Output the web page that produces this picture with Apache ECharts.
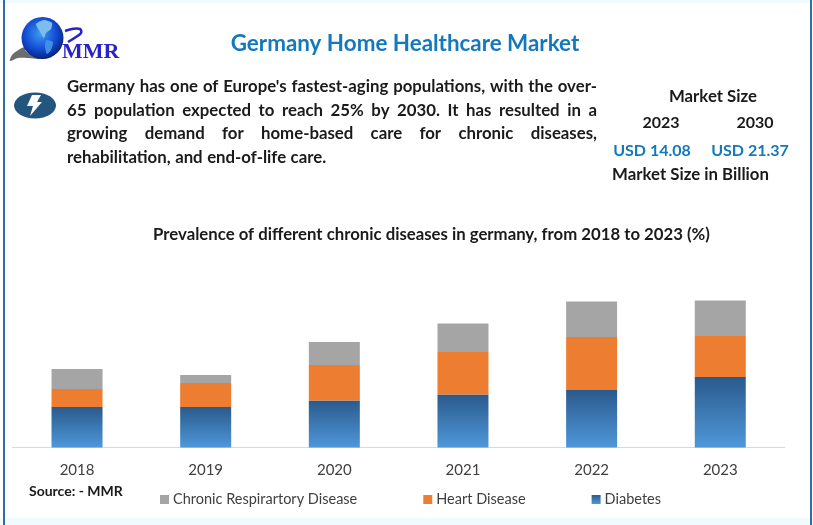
<!DOCTYPE html>
<html><head><meta charset="utf-8">
<style>html,body{margin:0;padding:0;background:#fff}#c{width:813px;height:525px}</style>
<script src="https://cdn.jsdelivr.net/npm/echarts@6/dist/echarts.min.js"></script>
</head><body><div id="c"></div>
<script>
const years = ['2018','2019','2020','2021','2022','2023'];
const diabetes = [8.1, 8.1, 9.4, 10.6, 11.5, 14.1];
const heart = [3.6, 4.8, 7.1, 8.5, 10.6, 8.2];
const respiratory = [4.0, 1.6, 4.6, 5.7, 7.1, 7.1];
const seriesNames = ['Chronic Respirartory Disease','Heart Disease','Diabetes'];
const mainTitle = 'Germany Home Healthcare Market';
const chartTitle = 'Prevalence of different chronic diseases in germany, from 2018 to 2023 (%)';
const paragraph = [
 "Germany has one of Europe's fastest-aging populations, with the over-",
 "65 population expected to reach 25% by 2030. It has resulted in a",
 "growing demand for home-based care for chronic diseases,",
 "rehabilitation, and end-of-life care."
];
const FONT='Lato';
const chart = echarts.init(document.getElementById('c'),null,{renderer:'canvas'});
const mc=document.createElement('canvas').getContext('2d');
function label(text,x,y,size,fill,align,weight){
  return {type:'text',x:x,y:y,silent:true,style:{text:text,fontFamily:FONT,fontSize:size,fontWeight:weight||'bold',fill:fill,align:align||'center',verticalAlign:'middle'}};
}
function justified(lines,x,w,y0,dy,size){
  const out=[];
  mc.font='bold '+size+'px '+FONT;
  lines.forEach((ln,i)=>{
    const words=ln.split(' ');
    const widths=words.map(t=>mc.measureText(t).width);
    const total=widths.reduce((a,b)=>a+b,0);
    const sp=mc.measureText(' ').width*1.1;
    const gap=i<lines.length-1?(w-total)/(words.length-1):sp;
    let cx=x;
    words.forEach((t,j)=>{
      out.push(label(t,cx,y0+i*dy,size,'#1a1a1a','left'));
      cx+=widths[j]+gap;
    });
  });
  return out;
}
const globe={type:'circle',shape:{cx:42.5,cy:38,r:21},style:{fill:new echarts.graphic.RadialGradient(0.45,0.4,0.65,[{offset:0,color:'#3f9bf0'},{offset:0.55,color:'#1450d8'},{offset:1,color:'#061a70'}])},silent:true};
const land=[
 {type:'polygon',shape:{points:[[36,24],[44,20],[52,23],[51,29],[46,33],[44,38],[40,32]],smooth:0.2},style:{fill:'#7dbcec'},silent:true},
 {type:'polygon',shape:{points:[[46,40],[53,42],[51,50],[47,54],[45,47]],smooth:0.2},style:{fill:'#3f8fe8'},silent:true}
];
const swoosh={type:'polygon',shape:{points:[[10,61],[12,55],[20,49],[28,46],[25,50],[30,54],[42,56],[54,53],[62,47],[54,55],[42,59],[28,58],[18,58]],smooth:0.25},style:{fill:'#6d6d6d'},silent:true};
const two={type:'polyline',shape:{points:[[65,31],[72,29],[80,29],[81,33],[76,37],[68,42]],smooth:0.4},style:{stroke:'#2a22c8',lineWidth:2.6,fill:'none'},silent:true};
const bolt={type:'polygon',shape:{points:[[32,95],[41,95],[37,102],[42,102],[30,116],[33,106],[27,106]]},style:{fill:'#fff'},silent:true};
chart.setOption({
  animation:false,
  backgroundColor:'#ffffff',
  title:{text:mainTitle,left:405,top:33,textAlign:'center',padding:0,textStyle:{fontFamily:FONT,fontSize:22.4,fontWeight:'bold',color:'#1478bd'}},
  grid:{left:12.7,right:28.4,top:297.5,bottom:77.5},
  legend:{left:155,top:487,itemWidth:9,itemHeight:9,itemGap:66,icon:'rect',data:seriesNames,
    textStyle:{fontFamily:FONT,fontSize:14.5,color:'#404040',padding:[0,0,0,-1]}},
  xAxis:{type:'category',data:years,axisTick:{show:false},axisLine:{lineStyle:{color:'#d9d9d9',width:1}},
    axisLabel:{margin:15,fontFamily:FONT,fontSize:15,color:'#404040'}},
  yAxis:{type:'value',min:0,max:30,show:false},
  series:[
    {name:'Diabetes',type:'bar',stack:'a',barWidth:51,data:diabetes,
      itemStyle:{color:new echarts.graphic.LinearGradient(0,0,0,1,[{offset:0,color:'#2a5a8c'},{offset:1,color:'#4f97da'}])}},
    {name:'Heart Disease',type:'bar',stack:'a',barWidth:51,data:heart,itemStyle:{color:'#ed7d31'}},
    {name:'Chronic Respirartory Disease',type:'bar',stack:'a',barWidth:51,data:respiratory,itemStyle:{color:'#a5a5a5'}}
  ],
  graphic:{elements:[
    {type:'rect',shape:{x:0,y:0,width:813,height:3},style:{fill:'#f0fbfd'},silent:true},
    {type:'rect',shape:{x:0,y:518,width:813,height:7},style:{fill:'#f0fbfd'},silent:true},
    {type:'rect',shape:{x:3,y:0,width:2,height:525},style:{fill:'#2f6f9f'},silent:true},
    {type:'rect',shape:{x:810,y:0,width:2,height:525},style:{fill:'#2f6f9f'},silent:true},
    swoosh,globe,...land,two,
    {type:'text',x:62,y:41,silent:true,style:{text:'MMR',fontFamily:'Liberation Serif',fontSize:22,fontWeight:'bold',fill:'#2a22c8',align:'left',verticalAlign:'top'}},
    {type:'ellipse',shape:{cx:35,cy:105.5,rx:21,ry:13},style:{fill:'#24557f'},silent:true},bolt,
    ...justified(paragraph,67,530,87,23.4,16.8),
    label('Market Size',713,97,16.8,'#1a1a1a'),
    label('2023',661,122.5,16,'#1a1a1a'),
    label('2030',755,122.5,16,'#1a1a1a'),
    label('USD 14.08',652,150.5,16,'#1478bd'),
    label('USD 21.37',750,150.5,16,'#1478bd'),
    label('Market Size in Billion',690.5,175,16.8,'#1a1a1a'),
    label(chartTitle,431.5,235,16.75,'#1a1a1a'),
    label('Source: - MMR',29,491,14,'#1a1a1a','left')
  ]}
});
</script></body></html>
